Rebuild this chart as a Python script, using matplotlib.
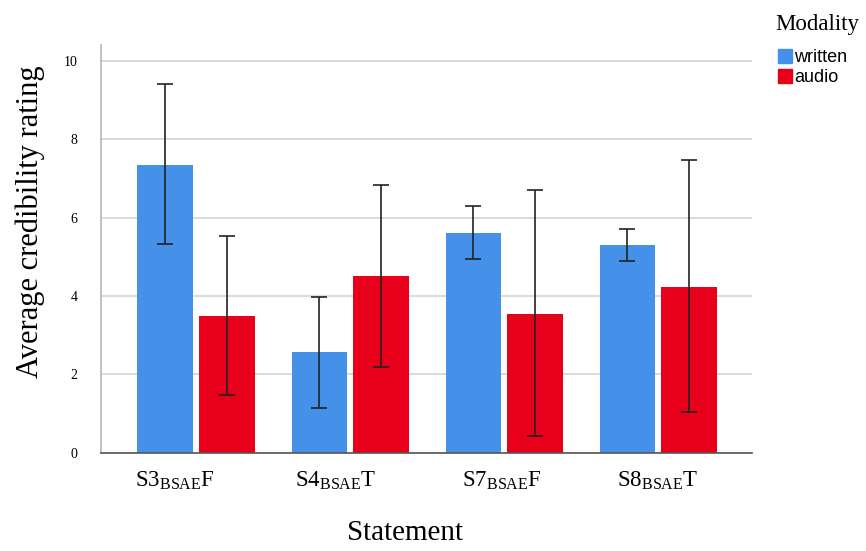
import numpy as np
import matplotlib
matplotlib.use("Agg")
import matplotlib.pyplot as plt
import matplotlib.transforms as mtransforms
from matplotlib.patches import Patch

plt.rcParams['font.family'] = ['Liberation Serif', 'DejaVu Serif']
plt.rcParams['mathtext.fontset'] = 'custom'
plt.rcParams['mathtext.rm'] = 'Liberation Serif'

# data
statements = ['S3$_{\\mathrm{BSAE}}$F', 'S4$_{\\mathrm{BSAE}}$T',
              'S7$_{\\mathrm{BSAE}}$F', 'S8$_{\\mathrm{BSAE}}$T']
written = [7.35, 2.58, 5.61, 5.31]
written_lo = [5.33, 1.15, 4.95, 4.90]
written_hi = [9.41, 3.98, 6.30, 5.71]
audio = [3.49, 4.52, 3.55, 4.23]
audio_lo = [1.48, 2.19, 0.43, 1.05]
audio_hi = [5.54, 6.84, 6.71, 7.47]

blue = '#4591ea'
red = '#e8001a'

fig = plt.figure(figsize=(8.66, 5.51), dpi=100)
ax = fig.add_axes([0.1166, 0.178, 0.7518, 0.7403])

x = np.arange(len(statements))
w = 0.36
off = 0.2

werr = [np.array(written) - np.array(written_lo), np.array(written_hi) - np.array(written)]
aerr = [np.array(audio) - np.array(audio_lo), np.array(audio_hi) - np.array(audio)]

ax.bar(x - off, written, w, color=blue, zorder=2)
ax.bar(x + off, audio, w, color=red, zorder=2)
ax.errorbar(x - off, written, yerr=werr, fmt='none', ecolor='#222222',
            elinewidth=1.2, capsize=6, capthick=1.2, zorder=3)
ax.errorbar(x + off, audio, yerr=aerr, fmt='none', ecolor='#222222',
            elinewidth=1.2, capsize=6, capthick=1.2, zorder=3)

ax.set_xlim(-0.617, 3.61)
ax.set_ylim(0, 10.4)
ax.set_yticks([0, 2, 4, 6, 8, 10])
ax.yaxis.grid(True, color='#d4d4d4', linewidth=1.2, zorder=0)
ax.set_axisbelow(True)

ax.set_xticks(x)
ax.set_xticklabels(statements, fontsize=16.5)
ax.tick_params(axis='x', length=0, pad=12)
ax.tick_params(axis='y', length=0, pad=17, labelsize=10)

# the first labels sit a little left of their groups in the original
shifts = [-21, -14, -2, 0]
for lab, dx in zip(ax.get_xticklabels(), shifts):
    lab.set_transform(lab.get_transform() + mtransforms.ScaledTranslation(dx / 100, 0, fig.dpi_scale_trans))

for s in ['top', 'right']:
    ax.spines[s].set_visible(False)
ax.spines['left'].set_color('#b5b5b5')
ax.spines['left'].set_linewidth(1.2)
ax.spines['bottom'].set_color('#555555')
ax.spines['bottom'].set_linewidth(1.2)

ax.set_ylabel('Average credibility rating', fontsize=22)
ax.yaxis.set_label_coords(-0.086, 0.566)
ax.set_xlabel('Statement', fontsize=21)
ax.xaxis.set_label_coords(0.467, -0.164)

# legend: title as its own text, entries below
fig.text(0.895, 0.9456, 'Modality', fontsize=16.5, ha='left', va='baseline')
handles = [Patch(color=blue, label='written'), Patch(color=red, label='audio')]
leg = fig.legend(handles=handles, loc='upper left', bbox_to_anchor=(0.8876, 0.928),
                 frameon=False, handlelength=0.8, handleheight=0.8,
                 handletextpad=0.1, labelspacing=0.17, borderpad=0,
                 prop={'family': 'Liberation Sans', 'size': 13})

fig.savefig('out.png', dpi=100)
